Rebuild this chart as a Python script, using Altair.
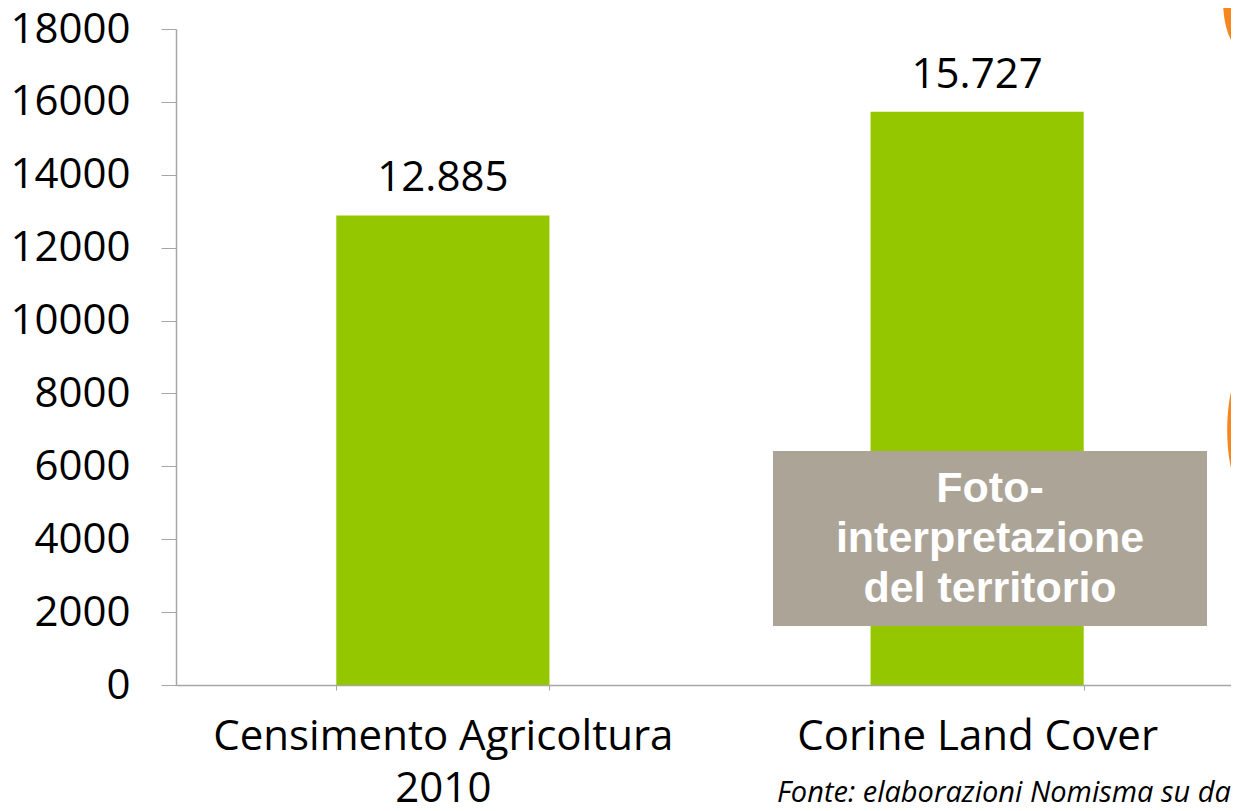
import altair as alt
import pandas as pd

# ---- data ----
categories = ["Censimento Agricoltura\n2010", "Corine Land Cover"]
values = [12885, 15727]
y_ticks = [0, 2000, 4000, 6000, 8000, 10000, 12000, 14000, 16000, 18000]

note_lines = ["Foto-", "interpretazione", "del territorio"]
source_text = "Fonte: elaborazioni Nomisma su dati"

GREEN = "#95C700"
GREY_BOX = "#ACA497"
AXIS = "#A6A6A6"
ORANGE = "#F7861E"
FONT = "Open Sans"

df = pd.DataFrame({
    "cat": categories,
    "value": values,
    "label": [f"{v:,}".replace(",", ".") for v in values],
})

x_enc = alt.X(
    "cat:N",
    sort=categories,
    scale=alt.Scale(range=[0, 1068], paddingInner=0.601, paddingOuter=0.3),
    axis=alt.Axis(
        title=None,
        tickBand="extent",
        tickSize=5,
        tickColor=AXIS,
        domainColor=AXIS,
        domainWidth=1.5,
        labelFont=FONT,
        labelFontSize=42,
        labelColor="black",
        labelPadding=26,
        labelLimit=2000,
        labelLineHeight=52,
        labelAngle=0,
        labelExpr="isValid(datum.value) ? split(datum.value, '\\n') : ''",
    ),
)
y_enc = alt.Y(
    "value:Q",
    scale=alt.Scale(domain=[0, 18000], nice=False),
    axis=alt.Axis(
        title=None,
        values=y_ticks,
        format="d",
        grid=False,
        tickSize=15,
        tickColor=AXIS,
        domainColor=AXIS,
        domainWidth=1.5,
        labelFont=FONT,
        labelFontSize=42,
        labelColor="black",
        labelPadding=31,
    ),
)

base = alt.Chart(df)
bars = base.mark_bar(color=GREEN).encode(x=x_enc, y=y_enc)
vals = base.mark_text(
    font=FONT, fontSize=42, color="black", baseline="alphabetic", dy=-24
).encode(x=alt.X("cat:N", sort=categories), y="value:Q", text="label:N")

note_df = pd.DataFrame({"t": [note_lines]})
box = alt.Chart(pd.DataFrame({"a": [0]})).mark_rect(color=GREY_BOX).encode(
    x=alt.value(597), x2=alt.value(1031), y=alt.value(422), y2=alt.value(597)
)
note = alt.Chart(note_df).mark_text(
    font="Liberation Sans", fontWeight="bold", fontSize=43, color="white",
    align="center", baseline="alphabetic", lineHeight=50
).encode(x=alt.value(814), y=alt.value(473), text="t")

src = alt.Chart(pd.DataFrame({"t": [source_text]})).mark_text(
    font=FONT, fontStyle="italic", fontSize=29, color="black",
    align="left", baseline="alphabetic"
).encode(x=alt.value(601), y=alt.value(773), text="t:N")

ell_path = "M -0.4 0 A 0.4 1 0 1 1 0.4 0 A 0.4 1 0 1 1 -0.4 0 Z"
orange1 = alt.Chart(pd.DataFrame({"a": [0]})).mark_point(
    shape=ell_path, filled=True, color=ORANGE, opacity=1, size=10000, strokeWidth=0
).encode(x=alt.value(1067), y=alt.value(-29))
ell_path2 = "M -0.28 0 A 0.28 1 0 1 1 0.28 0 A 0.28 1 0 1 1 -0.28 0 Z"
orange2 = alt.Chart(pd.DataFrame({"a": [0]})).mark_point(
    shape=ell_path2, filled=True, color=ORANGE, opacity=1, size=14400, strokeWidth=0
).encode(x=alt.value(1068), y=alt.value(401))

chart = (
    alt.layer(bars, vals, box, note, src, orange1, orange2)
    .properties(
        width=1055,
        height=656,
        background="white",
        autosize=alt.AutoSizeParams(type="none"),
        padding={"left": 168, "top": 21, "right": 0, "bottom": 118},
    )
    .configure_view(strokeWidth=0, stroke="transparent")
)

chart.save("out.html", embed_options={"renderer": "svg", "actions": False})
